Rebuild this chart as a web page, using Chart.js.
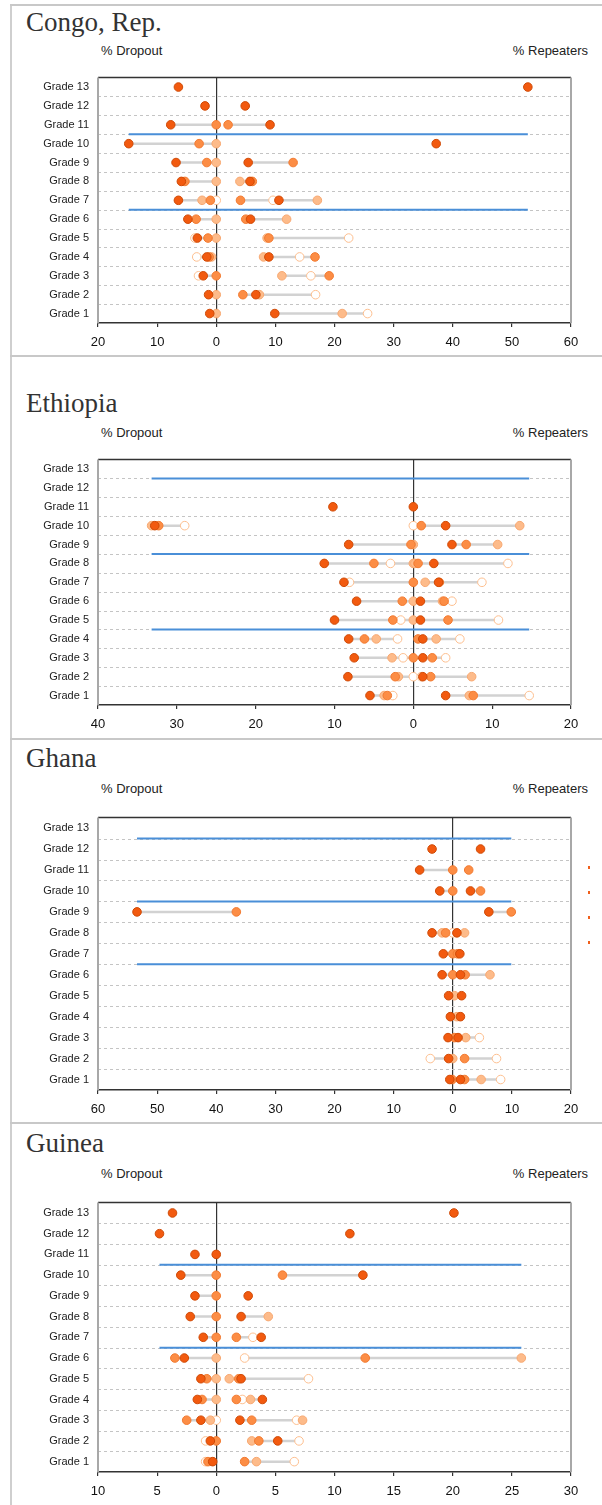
<!DOCTYPE html>
<html>
<head>
<meta charset="utf-8">
<script src="https://cdn.jsdelivr.net/npm/chart.js@4.4.0/dist/chart.umd.min.js"></script>
<style>
  body { margin: 0; background: #fff; width: 602px; height: 1505px; position: relative; overflow: hidden;
         font-family: "Liberation Sans", Arial, sans-serif; }
  .frame-left { position: absolute; left: 10px; top: 4px; width: 2px; height: 1501px; background: #cfcfcf; }
  .sep { position: absolute; left: 10px; width: 592px; height: 2px; background: #c8c8c8; }
  .title { position: absolute; left: 26px; font-family: "Liberation Serif", "Times New Roman", serif;
           font-size: 27px; line-height: 30px; color: #333; white-space: nowrap; }
  .lab { position: absolute; font-size: 13px; line-height: 16px; color: #222; white-space: nowrap; }
  .mark { position: absolute; left: 588px; width: 2px; height: 3px; background: #f0601c; }
  canvas { position: absolute; left: 0; }
</style>
</head>
<body>
<div class="frame-left"></div>
<div class="sep" style="top:4px"></div>
<div class="sep" style="top:355px"></div>
<div class="sep" style="top:738px"></div>
<div class="sep" style="top:1122px"></div>
<div class="mark" style="top:866px"></div>
<div class="mark" style="top:891px"></div>
<div class="mark" style="top:916px"></div>
<div class="mark" style="top:941px"></div>

<script>
// grade rows, bottom to top
const grades = [1, 2, 3, 4, 5, 6, 7, 8, 9, 10, 11, 12, 13];

// each array: 4 series (darkest first), values for Grade 1 .. Grade 13
const congoDropout = [
  [1.1, 1.3, 2.2, 1.6, 3.2, 4.8, 6.4, 5.9, 6.8, 14.8, 7.7, 1.9, 6.4],
  [null, null, 0, 1.2, 1.4, 3.4, 1.0, 5.3, 1.6, 2.9, 0, null, null],
  [0, 0, null, 0.8, 0, 0, 2.4, 0, 0, 0, null, null, null],
  [null, null, 3.0, 3.3, 3.6, null, 0, null, null, null, null, null, null]
];
const congoRepeaters = [
  [9.9, 6.7, null, 8.9, null, 5.8, 10.6, 5.7, 5.4, 37.2, 9.1, 4.9, 52.7],
  [null, 4.5, 19.1, 16.7, 8.9, 5.0, 4.1, 6.1, 13.0, null, 2.0, null, null],
  [21.3, 7.3, 11.1, 8.0, 8.6, 11.9, 17.1, 4.0, null, null, null, null, null],
  [25.6, 16.8, 16.0, 14.1, 22.4, null, 9.6, null, null, null, null, null, null]
];
const ethiopiaDropout = [
  [5.5, 8.3, 7.5, 8.2, 10.0, 7.2, 8.8, 11.3, 8.2, 32.8, 10.2, null, null],
  [3.3, 2.3, 0, 6.2, 2.6, 1.4, 0, 5.0, 0.3, 32.3, null, null, null],
  [3.7, 1.9, 2.7, 4.7, 0, 0, null, 0, 0, 33.2, null, null, null],
  [2.6, 0, 1.3, 2.0, 1.6, null, 8.1, 2.9, null, 29.0, null, null, null]
];
const ethiopiaRepeaters = [
  [4.1, 1.2, 1.2, 1.2, 0.9, 0.9, 3.2, 2.6, 4.9, 4.1, 0, null, null],
  [7.6, 2.2, 2.4, 0.6, 4.4, 3.9, 3.3, 0.6, 6.7, 1.0, null, null, null],
  [7.1, 7.4, null, 2.9, null, 3.7, 1.5, 0.2, 10.7, 13.5, null, null, null],
  [14.7, 1.0, 4.1, 5.9, 10.8, 4.9, 8.7, 12.0, null, 0, null, null, null]
];
const ghanaDropout = [
  [0.5, 0.7, 0.8, 0.4, 0.7, 1.8, 1.6, 3.5, 53.4, 2.2, 5.6, 3.5, null],
  [0.1, null, null, null, null, 0, 0, 1.2, 36.6, 0, 0, null, null],
  [null, 0, null, null, null, null, null, 1.8, null, null, null, null, null],
  [null, 3.8, null, null, null, null, null, 0, null, null, null, null, null]
];
const ghanaRepeaters = [
  [1.3, null, 0.9, 1.3, 1.5, 1.3, 1.2, 0.7, 6.1, 3.0, null, 4.7, null],
  [2.0, 2.0, 0.3, null, null, 2.1, 0.8, null, 9.9, 4.7, 2.7, null, null],
  [4.8, null, 2.2, 0.7, 0.3, 6.3, null, 2.0, null, null, null, null, null],
  [8.1, 7.4, 4.5, null, null, null, null, null, null, null, null, null, null]
];
const guineaDropout = [
  [0.3, 0.5, 1.3, 1.6, 1.3, 2.7, 1.1, 2.2, 1.8, 3.0, 1.8, 4.8, 3.7],
  [0.7, 0, 2.5, 1.2, 0.8, 3.5, 0, 0, 0, 0, null, null, null],
  [null, null, 0.5, 0, 0, 0, null, null, null, null, null, null, null],
  [0.9, 0.9, 0, null, null, null, null, null, null, null, null, null, null]
];
const guineaRepeaters = [
  [null, 5.2, 2.0, 3.9, 2.1, null, 3.8, 2.1, 2.7, 12.4, 0, 11.3, 20.1],
  [2.4, 3.6, 3.0, 1.7, 1.9, 12.6, 1.7, null, null, 5.6, null, null, null],
  [3.4, 3.0, 7.3, 2.9, 1.1, 25.8, null, 4.4, null, null, null, null, null],
  [6.6, 7.0, 6.8, 2.2, 7.8, 2.4, 3.1, null, null, null, null, null, null]
];

// x tick values (dropout side shown as positive numbers)
const congoXTicks = [-20, -10, 0, 10, 20, 30, 40, 50, 60];
const ethiopiaXTicks = [-40, -30, -20, -10, 0, 10, 20];
const ghanaXTicks = [-60, -50, -40, -30, -20, -10, 0, 10, 20];
const guineaXTicks = [-10, -5, 0, 5, 10, 15, 20, 25, 30];

// blue cycle lines sit between these grades
const congoCycles = [10.5, 6.5];
const ethiopiaCycles = [12.5, 8.5, 4.5];
const ghanaCycles = [12.5, 9.5, 6.5];
const guineaCycles = [10.5, 6.5];

const dotFill = ['#f25a0f', '#fc8d45', '#fdbb8a', '#ffffff'];
const dotBorder = ['#cf4a06', '#f27a30', '#f7a871', '#fdbf8f'];

const panels = [
  { title: 'Congo, Rep.', drop: congoDropout, rep: congoRepeaters, ticks: congoXTicks, cycles: congoCycles, top: 68, h: 255, titleY: 22, labY: 51 },
  { title: 'Ethiopia', drop: ethiopiaDropout, rep: ethiopiaRepeaters, ticks: ethiopiaXTicks, cycles: ethiopiaCycles, top: 450, h: 255, titleY: 403, labY: 433 },
  { title: 'Ghana', drop: ghanaDropout, rep: ghanaRepeaters, ticks: ghanaXTicks, cycles: ghanaCycles, top: 808, h: 282, titleY: 758, labY: 789 },
  { title: 'Guinea', drop: guineaDropout, rep: guineaRepeaters, ticks: guineaXTicks, cycles: guineaCycles, top: 1193, h: 279, titleY: 1143, labY: 1174 }
];

// dashed row separators + plot frame
const framePlugin = {
  id: 'frame',
  beforeDatasetsDraw(chart) {
    const { ctx, chartArea: a, scales: { y } } = chart;
    ctx.save();
    ctx.strokeStyle = '#c4c4c4';
    ctx.lineWidth = 1;
    ctx.setLineDash([3, 3]);
    for (let k = 1.5; k < 13; k++) {
      const py = Math.round(y.getPixelForValue(k)) + 0.5;
      ctx.beginPath();
      ctx.moveTo(a.left, py);
      ctx.lineTo(a.right, py);
      ctx.stroke();
    }
    ctx.setLineDash([]);
    ctx.strokeStyle = '#333';
    ctx.lineWidth = 1.5;
    ctx.beginPath();
    ctx.moveTo(a.left, a.top);
    ctx.lineTo(a.right, a.top);
    ctx.stroke();
    ctx.strokeStyle = '#a8a8a8';
    ctx.lineWidth = 2;
    ctx.beginPath();
    ctx.moveTo(a.left, a.top);
    ctx.lineTo(a.left, a.bottom);
    ctx.moveTo(a.right, a.top);
    ctx.lineTo(a.right, a.bottom);
    ctx.stroke();
    ctx.restore();
  }
};

function rangePoints(drop, rep) {
  const pts = [];
  grades.forEach((g, i) => {
    const sides = [drop.map(s => s[i] == null ? null : -s[i]), rep.map(s => s[i])];
    sides.forEach(side => {
      const v = side.filter(x => x != null);
      if (v.length > 1) {
        pts.push({ x: Math.min(...v), y: g }, { x: Math.max(...v), y: g }, { x: null, y: g });
      }
    });
  });
  return pts;
}

function cyclePoints(drop, rep, cycles) {
  const lo = -Math.max(...drop.flat().filter(v => v != null));
  const hi = Math.max(...rep.flat().filter(v => v != null));
  const pts = [];
  cycles.forEach(c => pts.push({ x: lo, y: c }, { x: hi, y: c }, { x: null, y: c }));
  return pts;
}

function addText(cls, text, style) {
  const d = document.createElement('div');
  d.className = cls;
  d.textContent = text;
  Object.assign(d.style, style);
  document.body.appendChild(d);
}

panels.forEach(p => {
  addText('title', p.title, { top: (p.titleY - 15) + 'px' });
  addText('lab', '% Dropout', { top: (p.labY - 8) + 'px', left: '101px' });
  addText('lab', '% Repeaters', { top: (p.labY - 8) + 'px', right: '14px' });

  const cv = document.createElement('canvas');
  cv.width = 602;
  cv.height = 6 + p.h + 30;
  cv.style.top = (p.top - 6) + 'px';
  document.body.appendChild(cv);

  const datasets = [];
  for (let s = 0; s < 4; s++) {
    const pts = [];
    grades.forEach((g, i) => {
      if (p.drop[s][i] != null) pts.push({ x: -p.drop[s][i], y: g });
      if (p.rep[s][i] != null) pts.push({ x: p.rep[s][i], y: g });
    });
    datasets.push({
      data: pts,
      order: s + 1,
      pointRadius: 4.3,
      pointBorderWidth: 1,
      pointBackgroundColor: dotFill[s],
      pointBorderColor: dotBorder[s],
      showLine: false
    });
  }
  datasets.push({
    data: cyclePoints(p.drop, p.rep, p.cycles),
    order: 10, showLine: true, spanGaps: false, pointRadius: 0,
    borderColor: '#4a8fd8', borderWidth: 2
  });
  datasets.push({
    data: rangePoints(p.drop, p.rep),
    order: 11, showLine: true, spanGaps: false, pointRadius: 0,
    borderColor: '#d2d2d2', borderWidth: 2.5
  });

  new Chart(cv.getContext('2d'), {
    type: 'scatter',
    data: { datasets },
    options: {
      responsive: false,
      animation: false,
      layout: { padding: { left: 8, right: 31, top: 6, bottom: 0 } },
      plugins: { legend: { display: false }, tooltip: { enabled: false } },
      scales: {
        x: {
          type: 'linear',
          min: p.ticks[0],
          max: p.ticks[p.ticks.length - 1],
          afterBuildTicks: sc => { sc.ticks = p.ticks.map(v => ({ value: v })); },
          afterFit: sc => { sc.height = 30; },
          grid: {
            color: c => c.tick && c.tick.value === 0 ? '#333' : 'rgba(0,0,0,0)',
            tickColor: '#333',
            tickLength: 4,
            lineWidth: 1.2
          },
          border: { display: true, color: '#333', width: 1.5 },
          ticks: {
            color: '#111',
            padding: 8,
            font: { family: '"Liberation Sans", Arial, sans-serif', size: 13 },
            callback: v => Math.abs(v)
          }
        },
        y: {
          type: 'linear',
          min: 0.5,
          max: 13.5,
          afterBuildTicks: sc => { sc.ticks = grades.map(v => ({ value: v })); },
          afterFit: sc => { sc.width = 90; },
          grid: { display: false, drawTicks: false },
          border: { display: false },
          ticks: {
            color: '#222',
            padding: 9,
            autoSkip: false,
            font: { family: '"Liberation Sans", Arial, sans-serif', size: 11 },
            callback: v => 'Grade ' + v
          }
        }
      }
    },
    plugins: [framePlugin]
  });
});
</script>
</body>
</html>
